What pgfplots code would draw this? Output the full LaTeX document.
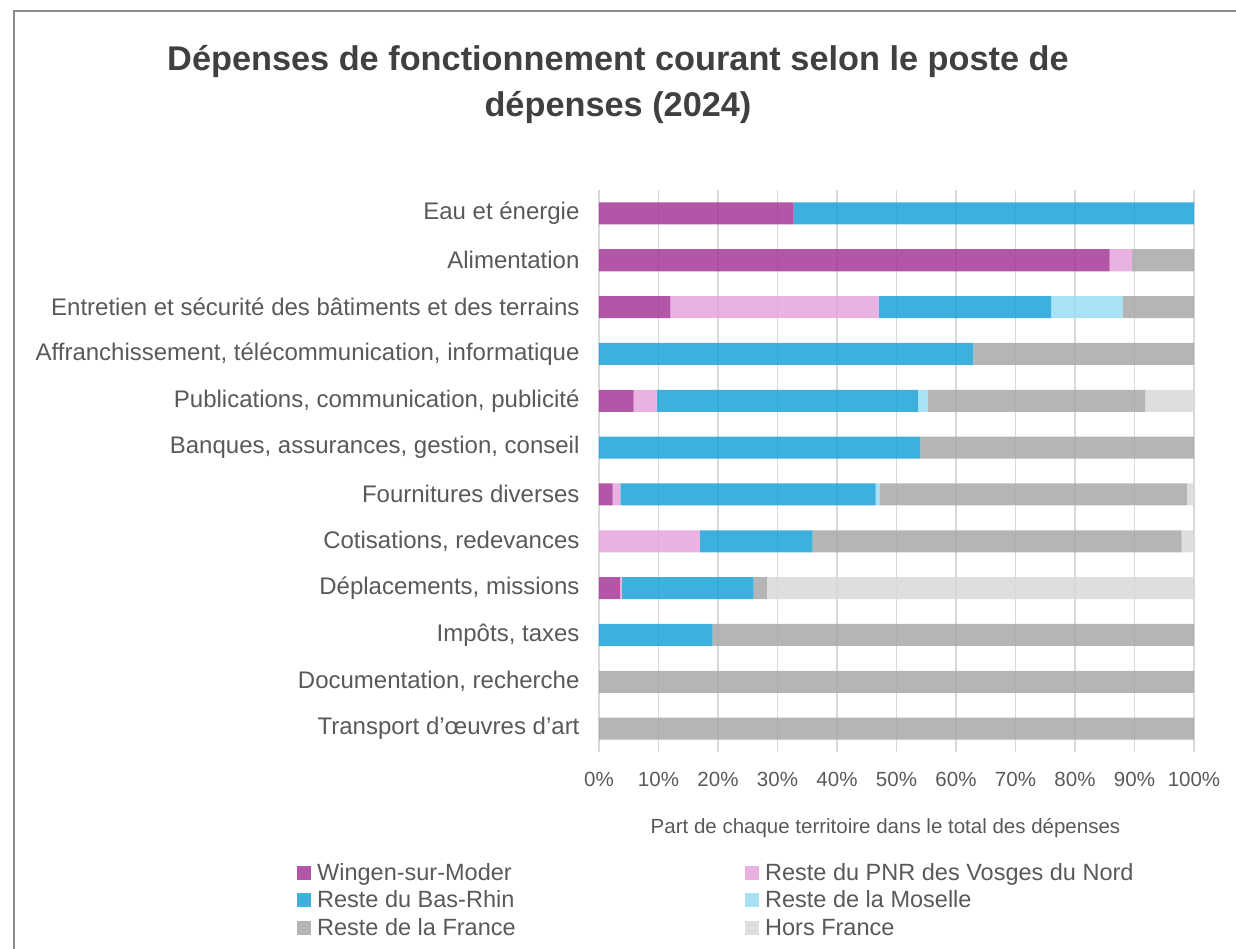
\documentclass[border=0pt]{standalone}
\usepackage{pgfplots}
\pgfplotsset{compat=1.18}
\usepackage{fontspec}
\setmainfont{Liberation Sans}
\definecolor{cW}{RGB}{166,56,153}
\definecolor{cP}{RGB}{229,164,221}
\definecolor{cB}{RGB}{28,162,215}
\definecolor{cM}{RGB}{154,221,243}
\definecolor{cF}{RGB}{168,168,168}
\definecolor{cH}{RGB}{216,216,216}
\definecolor{txt}{RGB}{89,89,89}
\definecolor{ttl}{RGB}{64,64,64}
\definecolor{frm}{RGB}{140,140,140}
\definecolor{grd}{RGB}{217,217,217}
\begin{document}
\begin{tikzpicture}
\path[use as bounding box] (-599pt,-197pt) rectangle (637pt,752pt);
\draw[frm, line width=1.5pt] (-585pt,-220pt) -- (-585pt,741pt) -- (660pt,741pt);
\node[font=\bfseries\fontsize{34.3}{46}\selectfont, text=ttl, align=center] at (19pt,668pt) {Dépenses de fonctionnement courant selon le poste de\\dépenses (2024)};
\begin{axis}[
  at={(0pt,0pt)}, anchor=south west,
  scale only axis, width=595pt, height=562pt,
  xbar stacked, bar width=22pt,
  xmin=0, xmax=100, ymin=-0.5, ymax=11.5,
  y dir=reverse,
  ytick={0,...,11},
  yticklabels={Eau et énergie,Alimentation,Entretien et sécurité des bâtiments et des terrains,{Affranchissement, télécommunication, informatique},{Publications, communication, publicité},{Banques, assurances, gestion, conseil},Fournitures diverses,{Cotisations, redevances},{Déplacements, missions},{Impôts, taxes},{Documentation, recherche},Transport d'œuvres d'art},
  xtick={0,10,...,100},
  xticklabel={\pgfmathprintnumber{\tick}\%},
  /pgf/number format/assume math mode=true,
  axis line style={draw=none},
  major tick length=0pt,
  xmajorgrids, ymajorgrids=false,
  grid style={grd, line width=1.6pt},
  yticklabel style={font=\fontsize{24}{28}\selectfont, text=txt, xshift=-16pt},
  xticklabel style={font=\fontsize{20.5}{24}\selectfont, text=txt, yshift=-17pt},
  xlabel={Part de chaque territoire dans le total des dépenses},
  xlabel style={font=\fontsize{20.5}{24}\selectfont, text=txt, at={(axis description cs:0.5,0)}, anchor=center, yshift=-76pt, xshift=-11pt},
  every axis plot/.append style={draw=none, fill opacity=0.85},
  legend columns=2,
  legend cell align=left,
  legend style={at={(axis description cs:-0.5076,-0.196)}, anchor=north west, draw=none, fill=none, inner sep=0pt,
     font=\fontsize{23.5}{28}\selectfont, text=txt, row sep=4.5pt,
     nodes={inner sep=0pt, text height=18pt, text depth=5pt},
     /tikz/every odd column/.append style={column sep=6pt}},
  legend image code/.code={\fill[#1, draw=none] (0pt,-6pt) rectangle (14pt,8pt);},
]
\addplot[fill=cW] coordinates {(32.7,0) (85.8,1) (12.0,2) (0,3) (5.8,4) (0,5) (2.3,6) (0,7) (3.5,8) (0,9) (0,10) (0,11)};
\addlegendentry{\makebox[428pt][l]{Wingen-sur-Moder}}
\addplot[fill=cP] coordinates {(0,0) (3.8,1) (35.0,2) (0,3) (3.9,4) (0,5) (1.3,6) (16.9,7) (0.4,8) (0,9) (0,10) (0,11)};
\addlegendentry{Reste du PNR des Vosges du Nord}
\addplot[fill=cB] coordinates {(67.3,0) (0,1) (29.0,2) (62.9,3) (43.9,4) (54.0,5) (42.9,6) (19.0,7) (22.1,8) (19.1,9) (0,10) (0,11)};
\addlegendentry{\makebox[428pt][l]{Reste du Bas-Rhin}}
\addplot[fill=cM] coordinates {(0,0) (0,1) (12.0,2) (0,3) (1.7,4) (0,5) (0.7,6) (0,7) (0,8) (0,9) (0,10) (0,11)};
\addlegendentry{Reste de la Moselle}
\addplot[fill=cF] coordinates {(0,0) (10.4,1) (12.0,2) (37.1,3) (36.5,4) (46.0,5) (51.6,6) (62.0,7) (2.2,8) (80.9,9) (100,10) (100,11)};
\addlegendentry{\makebox[428pt][l]{Reste de la France}}
\addplot[fill=cH] coordinates {(0,0) (0,1) (0,2) (0,3) (8.2,4) (0,5) (1.2,6) (2.1,7) (71.8,8) (0,9) (0,10) (0,11)};
\addlegendentry{Hors France}
\end{axis}
\end{tikzpicture}
\end{document}
